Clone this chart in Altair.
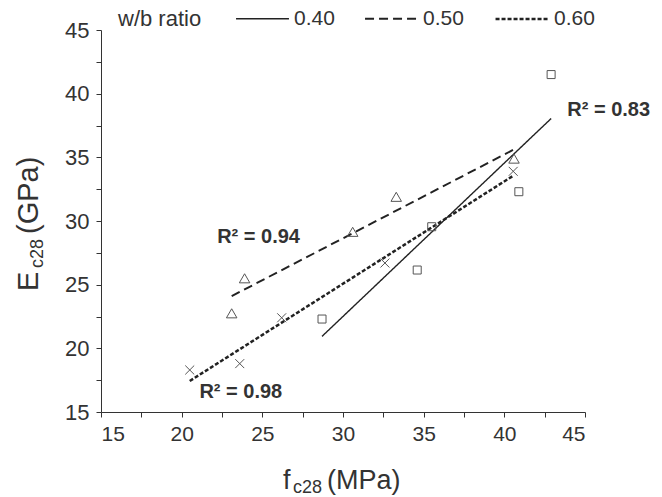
import altair as alt
import pandas as pd

FONT = "Liberation Sans"
TXT = "#333333"

ratios = ["0.40", "0.50", "0.60"]

# w/b = 0.40 (squares)
f_040 = [28.7, 34.6, 35.5, 40.9, 42.9]
E_040 = [22.3, 26.15, 29.55, 32.3, 41.5]
# w/b = 0.50 (triangles)
f_050 = [23.1, 23.9, 30.6, 33.3, 40.6]
E_050 = [22.75, 25.5, 29.15, 31.9, 34.9]
# w/b = 0.60 (crosses)
f_060 = [20.5, 23.6, 26.2, 32.6, 40.55]
E_060 = [18.3, 18.8, 22.4, 26.7, 33.9]

marker_shapes = ["square", "triangle-up", "M-1,-1L1,1M-1,1L1,-1"]
marker_sizes = [64, 110, 80]

r2_text = ["R\u00b2 = 0.83", "R\u00b2 = 0.94", "R\u00b2 = 0.98"]
r2_f = [43.9, 22.2, 21.1]
r2_E = [38.7, 28.75, 16.6]

tick_values = [15, 17.5, 20, 22.5, 25, 27.5, 30, 32.5, 35, 37.5, 40, 42.5, 45]

rows = []
for r, fs, es in [("0.40", f_040, E_040), ("0.50", f_050, E_050), ("0.60", f_060, E_060)]:
    for f, e in zip(fs, es):
        rows.append({"ratio": r, "f": f, "E": e})
df = pd.DataFrame(rows)
lab = pd.DataFrame({"label": r2_text, "f": r2_f, "E": r2_E})

xs = alt.Scale(domain=[15, 45], nice=False, zero=False)
ys = alt.Scale(domain=[15, 45], nice=False, zero=False)

common_axis = dict(
    values=tick_values,
    labelExpr="datum.value % 5 === 0 ? datum.label : ''",
    labelOverlap=False,
    title=None,
    grid=False,
    tickSize=5,
    tickColor="#333333",
    domainColor="#333333",
    labelColor=TXT,
    labelFont=FONT,
)
x_axis = alt.Axis(labelFontSize=21, labelPadding=6, **common_axis)
y_axis = alt.Axis(labelFontSize=22, labelPadding=7, **common_axis)


def X(field="f"):
    return alt.X(f"{field}:Q", scale=xs, axis=x_axis)


def Y(field="E"):
    return alt.Y(f"{field}:Q", scale=ys, axis=y_axis)


legend = alt.Legend(
    title=None,
    orient="none",
    legendX=134,
    legendY=-39,
    direction="horizontal",
    labelFontSize=21,
    labelFont=FONT,
    labelColor=TXT,
    labelOffset=4,
    columnPadding=26,
    symbolType="stroke",
    symbolSize=2800,
    symbolStrokeWidth=2,
    symbolStrokeColor="#222222",
)

lines = (
    alt.Chart(df)
    .transform_regression("f", "E", groupby=["ratio"])
    .mark_line(color="#222222")
    .encode(
        x=X(),
        y=Y(),
        strokeDash=alt.StrokeDash(
            "ratio:N",
            scale=alt.Scale(domain=ratios, range=[[1, 0], [9, 5], [4, 2]]),
            legend=legend,
        ),
        strokeWidth=alt.StrokeWidth(
            "ratio:N", scale=alt.Scale(domain=ratios, range=[1.4, 2.5, 2.6]), legend=None
        ),
    )
)

point_layers = []
for r, shp, sz in zip(ratios, marker_shapes, marker_sizes):
    point_layers.append(
        alt.Chart(df)
        .transform_filter(alt.datum.ratio == r)
        .mark_point(filled=False, color="#555555", strokeWidth=1, opacity=1, shape=shp, size=sz)
        .encode(x=X(), y=Y())
    )

r2 = (
    alt.Chart(lab)
    .mark_text(align="left", baseline="middle", font=FONT, fontSize=20, fontWeight="bold", color=TXT)
    .encode(x=X(), y=Y(), text="label:N")
)

one = pd.DataFrame({"k": [0]})


def txt(s, x, y, size, angle=0, baseline="alphabetic"):
    return (
        alt.Chart(one)
        .mark_text(align="left", baseline=baseline, font=FONT, fontSize=size, color=TXT, angle=angle)
        .encode(x=alt.value(x), y=alt.value(y), text=alt.value(s))
    )


legend_title = txt("w/b ratio", 17, -11, 22, baseline="middle")

# x-axis title: f_c28 (MPa)
xt = [
    txt("f", 182, 459, 27),
    txt("c28", 192, 463, 18),
    txt("(MPa)", 226, 459, 27),
]
# y-axis title: E_c28 (GPa)
yt = [
    txt("E", -63, 261, 29, angle=270),
    txt("c28", -58, 238, 18, angle=270),
    txt("(GPa)", -63, 204, 29, angle=270),
]

chart = (
    alt.layer(lines, *point_layers, r2, legend_title, *xt, *yt)
    .properties(
        width=484,
        height=382,
        autosize=alt.AutoSizeParams(type="none"),
        padding={"left": 101, "top": 30, "right": 77, "bottom": 85},
        background="white",
    )
    .configure_view(stroke=None)
)

chart.save("out.html", embed_options={"renderer": "svg", "actions": False})
